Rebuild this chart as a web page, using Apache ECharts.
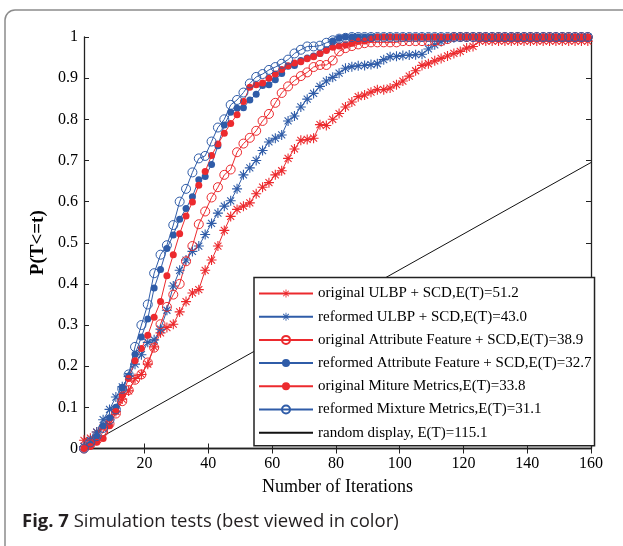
<!DOCTYPE html>
<html><head><meta charset="utf-8">
<script src="https://cdn.jsdelivr.net/npm/echarts@6/dist/echarts.min.js"></script>
<style>html,body{margin:0;padding:0;background:#fff}#c{width:623px;height:546px}</style>
</head><body><div id="c"></div>
<script>
// iterations (every other iteration)
const iterations = [];
for (let t = 1; t <= 159; t += 2) iterations.push(t);

const origULBP = [0.02,0.025,0.04,0.05,0.07,0.09,0.12,0.14,0.17,0.18,
0.205,0.247,0.281,0.294,0.302,0.332,0.357,0.378,0.386,0.433,
0.458,0.492,0.53,0.564,0.581,0.589,0.597,0.619,0.635,0.646,
0.665,0.675,0.705,0.728,0.749,0.751,0.754,0.787,0.785,0.80,
0.814,0.83,0.842,0.855,0.859,0.866,0.872,0.872,0.876,0.884,
0.893,0.905,0.918,0.931,0.935,0.942,0.948,0.954,0.96,0.965,
0.973,0.977,0.99,0.99,0.99,0.99,0.99,0.99,0.99,0.99,
0.99,0.99,0.99,0.99,0.99,0.99,0.99,0.99,0.99,0.99];

const refULBP = [0.005,0.02,0.04,0.07,0.095,0.125,0.15,0.175,0.205,0.228,
0.258,0.264,0.29,0.336,0.395,0.433,0.458,0.479,0.492,0.52,
0.547,0.572,0.589,0.602,0.631,0.665,0.682,0.70,0.724,0.745,
0.754,0.762,0.796,0.808,0.83,0.849,0.863,0.88,0.893,0.902,
0.912,0.924,0.928,0.93,0.931,0.933,0.935,0.945,0.952,0.953,
0.955,0.956,0.957,0.958,0.971,0.981,0.989,0.995,0.998,1,
1,1,1,1,1,1,1,1,1,1,
1,1,1,1,1,1,1,1,1,1];

const origAttr = [0,0.01,0.02,0.04,0.06,0.085,0.115,0.142,0.167,0.18,
0.209,0.245,0.302,0.344,0.374,0.40,0.455,0.492,0.545,0.576,
0.61,0.635,0.665,0.678,0.72,0.741,0.755,0.772,0.796,0.813,
0.84,0.864,0.88,0.894,0.905,0.914,0.927,0.932,0.932,0.943,
0.965,0.973,0.978,0.982,0.985,0.987,0.987,0.987,0.987,0.987,
0.99,0.99,0.99,0.99,0.99,0.99,0.99,0.995,1,1,
1,1,1,1,1,1,1,1,1,1,
1,1,1,1,1,1,1,1,1,1];

const refAttr = [0,0.01,0.03,0.055,0.075,0.10,0.147,0.176,0.229,0.271,
0.315,0.39,0.435,0.486,0.519,0.557,0.583,0.612,0.653,0.661,
0.69,0.736,0.786,0.817,0.827,0.828,0.847,0.861,0.882,0.884,
0.896,0.911,0.929,0.931,0.943,0.949,0.954,0.96,0.969,0.99,
0.997,1,1,1,1,1,1,1,1,1,
1,1,1,1,1,1,1,1,1,1,
1,1,1,1,1,1,1,1,1,1,
1,1,1,1,1,1,1,1,1,1];

const origMix = [0,0.005,0.015,0.024,0.055,0.09,0.13,0.17,0.213,0.243,
0.275,0.319,0.357,0.42,0.471,0.522,0.565,0.599,0.64,0.673,
0.712,0.74,0.766,0.79,0.811,0.843,0.878,0.884,0.888,0.90,
0.91,0.921,0.93,0.937,0.94,0.947,0.952,0.96,0.967,0.975,
0.978,0.981,0.985,0.99,0.99,0.995,1,1,1,1,
1,1,1,1,1,1,1,1,1,1,
1,1,1,1,1,1,1,1,1,1,
1,1,1,1,1,1,1,1,1,1];

const refMix = [0,0.015,0.03,0.05,0.07,0.095,0.145,0.18,0.247,0.30,
0.35,0.426,0.471,0.494,0.543,0.60,0.631,0.671,0.705,0.711,
0.746,0.78,0.80,0.835,0.847,0.865,0.887,0.903,0.91,0.92,
0.927,0.935,0.945,0.96,0.969,0.977,0.977,0.979,0.986,0.992,
0.996,0.998,1,1,1,1,1,1,1,1,
1,1,1,1,1,1,1,1,1,1,
1,1,1,1,1,1,1,1,1,1,
1,1,1,1,1,1,1,1,1,1];

const randomX = [0, 160];
const randomY = [0, 0.695];

const xTicks = [20, 40, 60, 80, 100, 120, 140, 160];
const seriesNames = [
  'original ULBP + SCD,E(T)=51.2',
  'reformed ULBP + SCD,E(T)=43.0',
  'original Attribute Feature + SCD,E(T)=38.9',
  'reformed Attribute Feature + SCD,E(T)=32.7',
  'original Miture Metrics,E(T)=33.8',
  'reformed Mixture Metrics,E(T)=31.1',
  'random display, E(T)=115.1'
];

const RED = '#ec2a2e', BLUE = '#2f5ca8';
const STAR = 'path://M0 8.9L20 8.9L20 11.1L0 11.1Z M8.9 0L11.1 0L11.1 20L8.9 20Z M3.78 2.22L17.78 16.22L16.22 17.78L2.22 3.78Z M17.78 3.78L3.78 17.78L2.22 16.22L16.22 2.22Z';
const SERIF = '"Liberation Serif","Times New Roman",serif';

function pairs(vals) { return iterations.map((t, i) => [t, vals[i]]); }

function mk(name, vals, color, kind) {
  const s = {
    name, type: 'line', data: pairs(vals), showAllSymbol: true,
    lineStyle: { color, width: 1 }, emphasis: { disabled: true }
  };
  if (kind === 'star') { s.symbol = STAR; s.symbolSize = 10; s.itemStyle = { color }; }
  if (kind === 'open') { s.symbol = 'circle'; s.symbolSize = 9; s.itemStyle = { color: 'rgba(0,0,0,0)', borderColor: color, borderWidth: 1 }; }
  if (kind === 'dot') { s.symbol = 'circle'; s.symbolSize = 7; s.itemStyle = { color }; }
  return s;
}

const axisCommon = {
  type: 'value', min: 1, max: 160,
  axisLine: { show: true, lineStyle: { color: '#222', width: 1.3 } },
  splitLine: { show: false },
  axisTick: { show: true, inside: true, length: 5, customValues: xTicks, lineStyle: { color: '#222' } }
};

const chart = echarts.init(document.getElementById('c'), null, { renderer: 'canvas' });
chart.setOption({
  animation: false,
  backgroundColor: '#fff',
  grid: { left: 84, top: 37, right: 32, bottom: 97.5, containLabel: false },
  xAxis: [
    Object.assign({}, axisCommon, {
      position: 'bottom',
      name: 'Number of Iterations', nameLocation: 'middle', nameGap: 30,
      nameTextStyle: { fontFamily: SERIF, fontSize: 18, color: '#000' },
      axisLabel: { customValues: xTicks, margin: 7, fontFamily: SERIF, fontSize: 16, color: '#000' }
    }),
    Object.assign({}, axisCommon, { position: 'top', axisLabel: { show: false } })
  ],
  yAxis: [
    {
      type: 'value', min: 0, max: 1, interval: 0.1, position: 'left',
      name: 'P(T<=t)', nameLocation: 'middle', nameGap: 34,
      nameTextStyle: { fontFamily: SERIF, fontSize: 19, fontWeight: 'bold', color: '#000' },
      axisLine: { show: true, lineStyle: { color: '#222', width: 1.3 } },
      axisTick: { show: true, inside: true, length: 5, lineStyle: { color: '#222' } },
      splitLine: { show: false },
      axisLabel: { margin: 6, fontFamily: SERIF, fontSize: 16, color: '#000',
        formatter: v => String(Math.round(v * 10) / 10) }
    },
    {
      type: 'value', min: 0, max: 1, interval: 0.1, position: 'right',
      axisLine: { show: true, lineStyle: { color: '#222', width: 1.3 } },
      axisTick: { show: true, inside: true, length: 5, lineStyle: { color: '#222' } },
      splitLine: { show: false }, axisLabel: { show: false }
    }
  ],
  legend: {
    orient: 'vertical', left: 254, top: 277.5,
    padding: [8, 3, 5, 4], itemWidth: 54, itemHeight: 10, itemGap: 7.2,
    backgroundColor: '#fff', borderColor: '#222', borderWidth: 1.5,
    textStyle: { fontFamily: SERIF, fontSize: 15, color: '#000', lineHeight: 16 },
    data: seriesNames.map((n, i) => i === 6 ? { name: n, itemStyle: { opacity: 0 } } : n)
  },
  series: [
    mk(seriesNames[0], origULBP, RED, 'star'),
    mk(seriesNames[1], refULBP, BLUE, 'star'),
    mk(seriesNames[2], origAttr, RED, 'open'),
    mk(seriesNames[3], refAttr, BLUE, 'dot'),
    mk(seriesNames[4], origMix, RED, 'dot'),
    mk(seriesNames[5], refMix, BLUE, 'open'),
    { name: seriesNames[6], type: 'line', symbol: 'none', data: randomX.map((x, i) => [x, randomY[i]]),
      lineStyle: { color: '#111', width: 1 }, itemStyle: { color: '#111' }, z: 1, emphasis: { disabled: true } }
  ],
  graphic: [
    { type: 'rect', shape: { x: 5, y: 10, width: 700, height: 600, r: 10 },
      style: { fill: 'none', stroke: '#8c8c8c', lineWidth: 1.5 }, silent: true },
    { type: 'text', x: 22, y: 522,
      style: { text: '{b|Fig. 7} Simulation tests (best viewed in color)',
        font: '18.5px "Open Sans", sans-serif', fill: '#231f20', verticalAlign: 'middle',
        rich: { b: { fontWeight: 'bold', fontFamily: '"Open Sans", sans-serif', fontSize: 18.5, fill: '#231f20' } } } }
  ]
});
</script></body></html>
